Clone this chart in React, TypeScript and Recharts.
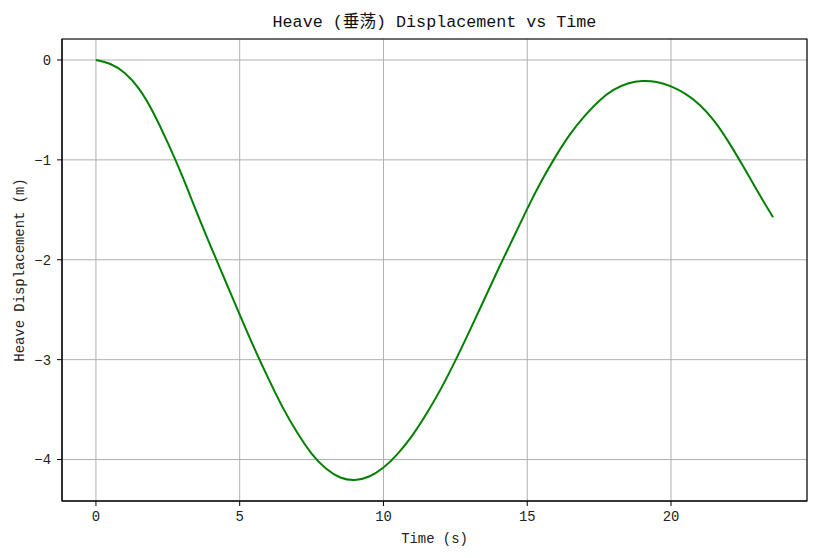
import React from "react";
import {
  LineChart,
  Line,
  XAxis,
  YAxis,
  CartesianGrid,
  ReferenceArea,
} from "recharts";

const times = [
  0, 0.5, 1, 1.5, 2, 2.5, 3, 3.5, 4, 4.5, 5, 5.5, 6, 6.5, 7, 7.5, 8, 8.5, 9,
  9.5, 10, 10.5, 11, 11.5, 12, 12.5, 13, 13.5, 14, 14.5, 15, 15.5, 16, 16.5,
  17, 17.5, 18, 18.5, 19, 19.5, 20, 20.5, 21, 21.5, 22, 22.5, 23, 23.55,
];

const heave = [
  0, -0.04, -0.13, -0.29, -0.53, -0.83, -1.16, -1.52, -1.87, -2.21, -2.55,
  -2.88, -3.19, -3.48, -3.73, -3.94, -4.09, -4.18, -4.205, -4.17, -4.08,
  -3.94, -3.76, -3.54, -3.29, -3.01, -2.71, -2.40, -2.09, -1.79, -1.49, -1.21,
  -0.96, -0.74, -0.56, -0.41, -0.30, -0.235, -0.21, -0.22, -0.265, -0.34,
  -0.45, -0.61, -0.82, -1.06, -1.31, -1.575,
];

const xTicks = [0, 5, 10, 15, 20];
const yTicks = [0, -1, -2, -3, -4];
const xDomain = [-1.18, 24.73];
const yDomain = [-4.415, 0.21];

const titleText = "Heave (垂荡) Displacement vs Time";
const xLabelText = "Time (s)";
const yLabelText = "Heave Displacement (m)";

const data = times.map((t, i) => ({ t, h: heave[i] }));

const FONT = "'Liberation Mono', 'Noto Sans CJK SC', monospace";
const fmt = (v: number) => String(v).replace("-", "\u2212");

export default function App() {
  return (
    <div
      style={{
        position: "absolute",
        left: 0,
        top: 0,
        width: 817,
        height: 558,
        background: "#fff",
        fontFamily: FONT,
      }}
    >
      <div
        style={{
          position: "absolute",
          left: 62,
          width: 745,
          top: 13,
          textAlign: "center",
          fontSize: 16.7,
          lineHeight: "20px",
          color: "#111",
          fontFamily: FONT,
        }}
      >
        {titleText}
      </div>
      <LineChart
        width={817}
        height={558}
        data={data}
        margin={{ top: 39, right: 10, bottom: 0, left: 0 }}
      >
        <CartesianGrid stroke="#b0b0b0" strokeWidth={1} />
        <XAxis
          dataKey="t"
          type="number"
          domain={xDomain}
          ticks={xTicks}
          allowDataOverflow
          height={57}
          tickSize={5}
          tickMargin={5}
          axisLine={{ stroke: "#000" }}
          tickLine={{ stroke: "#000" }}
          tick={{ fill: "#222", fontSize: 13.9, fontFamily: FONT }}
          label={{
            content: (props: any) => {
              const vb = props.viewBox || { x: 62, y: 501, width: 745, height: 57 };
              return (
                <text
                  x={vb.x + vb.width / 2}
                  y={vb.y + 38}
                  textAnchor="middle"
                  dominantBaseline="central"
                  fontSize={13.9}
                  fontFamily={FONT}
                  fill="#222"
                >
                  {xLabelText}
                </text>
              );
            },
          }}
        />
        <YAxis
          type="number"
          domain={yDomain}
          ticks={yTicks}
          allowDataOverflow
          width={62}
          tickSize={5}
          tickMargin={6}
          tickFormatter={fmt}
          axisLine={{ stroke: "#000" }}
          tickLine={{ stroke: "#000" }}
          tick={{ fill: "#222", fontSize: 13.9, fontFamily: FONT }}
          label={{
            content: (props: any) => {
              const vb = props.viewBox || { x: 0, y: 39, width: 62, height: 462 };
              const cx = vb.x + 20;
              const cy = vb.y + vb.height / 2;
              return (
                <text
                  x={cx}
                  y={cy}
                  transform={`rotate(-90, ${cx}, ${cy})`}
                  textAnchor="middle"
                  dominantBaseline="central"
                  fontSize={13.9}
                  fontFamily={FONT}
                  fill="#222"
                >
                  {yLabelText}
                </text>
              );
            },
          }}
        />
        <ReferenceArea
          x1={xDomain[0]}
          x2={xDomain[1]}
          y1={yDomain[0]}
          y2={yDomain[1]}
          fill="none"
          fillOpacity={0}
          stroke="#000"
          strokeWidth={1.1}
        />
        <Line
          type="natural"
          dataKey="h"
          stroke="#008000"
          strokeWidth={2}
          dot={false}
          isAnimationActive={false}
        />
      </LineChart>
    </div>
  );
}
